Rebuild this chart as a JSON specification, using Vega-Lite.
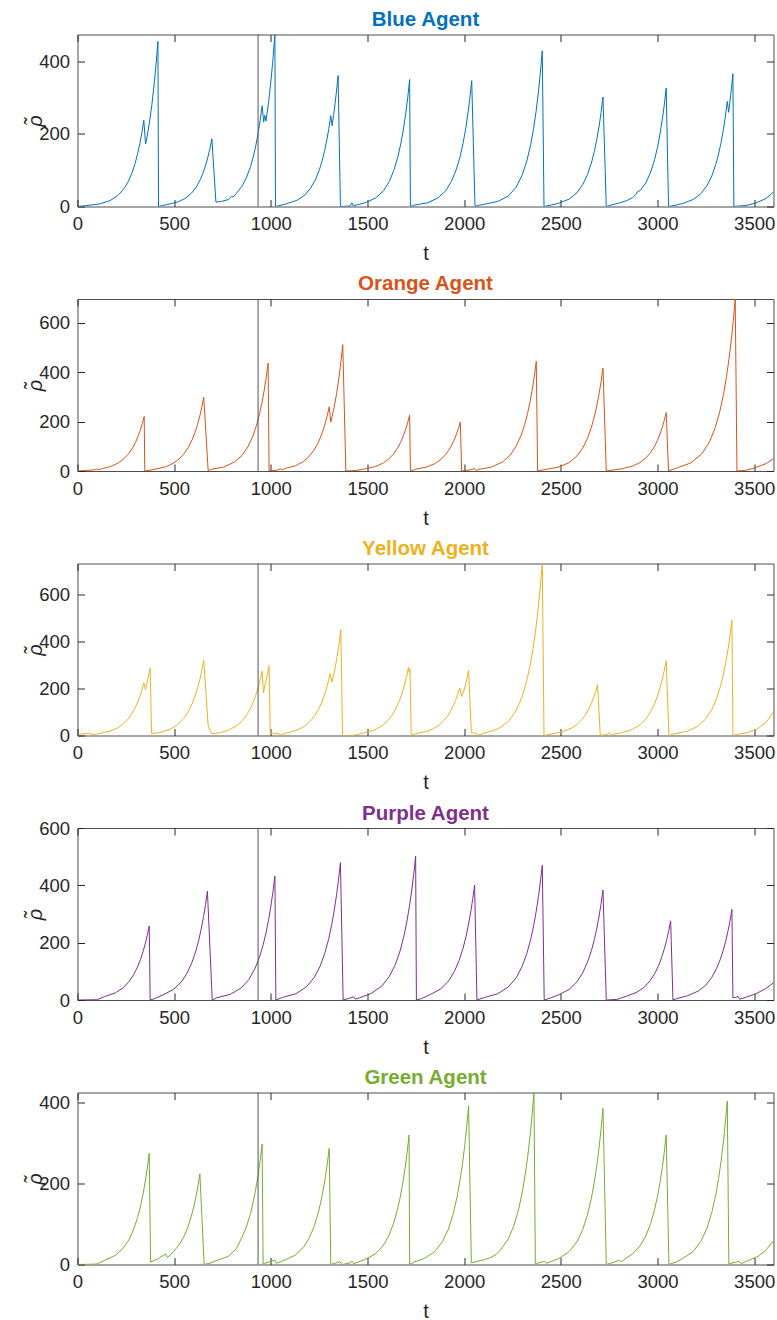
{
"$schema": "https://vega.github.io/schema/vega-lite/v6.json",
"padding": {"left": 24.5, "top": 8.5, "right": 0, "bottom": 0},
"spacing": 92.5,
"bounds": "flush",
"config": {
 "font": "Liberation Sans",
 "view": {"stroke": "#4d4d4d", "strokeWidth": 1},
 "axis": {"grid": false, "domain": false, "tickColor": "#262626", "tickSize": -7, "labelFontSize": 18.5, "labelColor": "#262626", "titleColor": "#262626", "titleFontWeight": "normal", "titleFontSize": 20, "labelFlush": false, "labelPadding": 15, "format": "d"},
 "axisX": {"titlePadding": 10.5},
 "axisY": {"titlePadding": -7},
 "title": {"fontSize": 20.5, "fontWeight": "bold", "anchor": "middle", "offset": 4}
},
"datasets": {
"blue": [
{"t":0,"v":0},{"t":43,"v":2.3},{"t":113,"v":7},{"t":168,"v":16},{"t":208,"v":30},{"t":238,"v":47},{"t":263,"v":69},{"t":283,"v":94},{"t":298,"v":118.5},{"t":311,"v":145},{"t":323,"v":174},{"t":333,"v":203},{"t":343,"v":237},{"t":352,"v":172},{"t":356,"v":180},{"t":371,"v":227},{"t":384,"v":277},{"t":396,"v":334},{"t":406,"v":389},{"t":416,"v":454},{"t":419,"v":0},
{"t":440,"v":3},{"t":465,"v":5.4},{"t":520,"v":12.6},{"t":560,"v":23},{"t":590,"v":37},{"t":615,"v":54},{"t":635,"v":74},{"t":650,"v":93},{"t":663,"v":114},{"t":675,"v":137},{"t":685,"v":159},{"t":695,"v":186},{"t":716,"v":12},
{"t":745,"v":14},{"t":780,"v":19},{"t":797,"v":28},{"t":805,"v":26},{"t":820,"v":35},{"t":850,"v":55},{"t":875,"v":81},{"t":895,"v":110},{"t":910,"v":138.5},{"t":923,"v":169},{"t":935,"v":204},{"t":945,"v":237},{"t":955,"v":277},{"t":963,"v":232},{"t":968,"v":251},{"t":975,"v":235},{"t":989,"v":289},{"t":1001,"v":348},{"t":1011,"v":405},{"t":1021,"v":473},{"t":1024,"v":0},
{"t":1040,"v":2},{"t":1080,"v":7.3},{"t":1135,"v":17},{"t":1175,"v":31},{"t":1205,"v":50},{"t":1230,"v":73},{"t":1250,"v":99},{"t":1265,"v":125},{"t":1278,"v":153},{"t":1290,"v":184},{"t":1300,"v":214},{"t":1310,"v":250},{"t":1317,"v":222},{"t":1328,"v":265},{"t":1338,"v":309},{"t":1348,"v":360},{"t":1360,"v":0},
{"t":1395,"v":1},{"t":1409,"v":1},{"t":1420,"v":10},{"t":1426,"v":2},{"t":1450,"v":5},{"t":1488,"v":10.2},{"t":1543,"v":23.6},{"t":1583,"v":43.6},{"t":1613,"v":69},{"t":1638,"v":102},{"t":1658,"v":138.5},{"t":1673,"v":174.5},{"t":1686,"v":213},{"t":1698,"v":256.5},{"t":1708,"v":299},{"t":1718,"v":349},{"t":1722,"v":0},
{"t":1739,"v":3.4},{"t":1809,"v":10},{"t":1864,"v":23.4},{"t":1904,"v":43},{"t":1934,"v":69},{"t":1959,"v":101},{"t":1979,"v":137},{"t":1994,"v":173},{"t":2007,"v":211},{"t":2019,"v":254},{"t":2029,"v":296.5},{"t":2039,"v":346},{"t":2056,"v":0},
{"t":2080,"v":4},{"t":2104,"v":6},{"t":2174,"v":14},{"t":2229,"v":29},{"t":2269,"v":53.5},{"t":2299,"v":85},{"t":2324,"v":125},{"t":2344,"v":170},{"t":2359,"v":214},{"t":2372,"v":261.5},{"t":2384,"v":314.6},{"t":2394,"v":367},{"t":2404,"v":428},{"t":2413,"v":0},
{"t":2450,"v":4},{"t":2488,"v":8.8},{"t":2543,"v":20.4},{"t":2583,"v":37.6},{"t":2613,"v":60},{"t":2638,"v":88},{"t":2658,"v":119.5},{"t":2673,"v":150.5},{"t":2686,"v":184},{"t":2698,"v":221},{"t":2708,"v":258},{"t":2718,"v":301},{"t":2735,"v":0},
{"t":2760,"v":4},{"t":2804,"v":10},{"t":2840,"v":16},{"t":2870,"v":24},{"t":2888,"v":33},{"t":2895,"v":40},{"t":2910,"v":44},{"t":2940,"v":65},{"t":2965,"v":95},{"t":2985,"v":129},{"t":3000,"v":163},{"t":3013,"v":199},{"t":3025,"v":240},{"t":3035,"v":279},{"t":3045,"v":326},{"t":3057,"v":0},
{"t":3090,"v":3},{"t":3131,"v":8.4},{"t":3186,"v":19.6},{"t":3226,"v":36},{"t":3256,"v":57.5},{"t":3281,"v":84},{"t":3301,"v":115},{"t":3316,"v":144.5},{"t":3329,"v":176.5},{"t":3341,"v":212},{"t":3351,"v":248},{"t":3361,"v":289},{"t":3368,"v":259},{"t":3380,"v":313},{"t":3390,"v":365},{"t":3395,"v":0},
{"t":3459,"v":3},{"t":3511,"v":10},{"t":3562,"v":22.3},{"t":3600,"v":40}
],
"orange": [
{"t":0,"v":0},{"t":45,"v":2},{"t":88,"v":5},{"t":100,"v":9},{"t":106,"v":5},{"t":130,"v":10},{"t":170,"v":18},{"t":210,"v":32},{"t":240,"v":49.3},{"t":265,"v":70.5},{"t":285,"v":93.7},{"t":300,"v":116},{"t":313,"v":140},{"t":325,"v":166},{"t":335,"v":191.6},{"t":345,"v":221},{"t":348,"v":0},
{"t":380,"v":4},{"t":423,"v":11},{"t":455,"v":17},{"t":462,"v":19},{"t":478,"v":24.5},{"t":518,"v":43},{"t":548,"v":67},{"t":573,"v":95},{"t":593,"v":127},{"t":608,"v":157},{"t":621,"v":189},{"t":633,"v":224.5},{"t":643,"v":259},{"t":653,"v":299},{"t":676,"v":0},
{"t":686,"v":6},{"t":756,"v":16},{"t":811,"v":36},{"t":851,"v":63},{"t":881,"v":97.5},{"t":906,"v":139},{"t":926,"v":185},{"t":941,"v":230},{"t":954,"v":276.6},{"t":966,"v":328},{"t":976,"v":379},{"t":986,"v":437},{"t":991,"v":0},
{"t":1030,"v":3},{"t":1050,"v":9},{"t":1058,"v":5},{"t":1072,"v":9.7},{"t":1127,"v":21},{"t":1167,"v":37.7},{"t":1197,"v":58},{"t":1222,"v":83},{"t":1242,"v":110},{"t":1257,"v":137},{"t":1270,"v":164.6},{"t":1282,"v":195},{"t":1292,"v":225},{"t":1302,"v":260},{"t":1310,"v":198},{"t":1327,"v":256},{"t":1340,"v":313},{"t":1352,"v":376},{"t":1362,"v":439},{"t":1372,"v":512},{"t":1388,"v":0},
{"t":1418,"v":1},{"t":1440,"v":2},{"t":1488,"v":8.5},{"t":1543,"v":18.6},{"t":1583,"v":33},{"t":1613,"v":50.6},{"t":1638,"v":72.4},{"t":1658,"v":96},{"t":1673,"v":119.4},{"t":1686,"v":143.7},{"t":1698,"v":170.5},{"t":1708,"v":197},{"t":1718,"v":227},{"t":1722,"v":0},
{"t":1750,"v":7.4},{"t":1805,"v":16},{"t":1845,"v":28.7},{"t":1875,"v":44},{"t":1900,"v":63},{"t":1920,"v":84},{"t":1935,"v":104},{"t":1948,"v":125},{"t":1960,"v":148.7},{"t":1970,"v":171.7},{"t":1980,"v":198},{"t":1987,"v":0},
{"t":2030,"v":4},{"t":2054,"v":10},{"t":2063,"v":2},{"t":2073,"v":6},{"t":2143,"v":16.6},{"t":2198,"v":36.4},{"t":2238,"v":64.4},{"t":2268,"v":99},{"t":2293,"v":141.6},{"t":2313,"v":188},{"t":2328,"v":233.5},{"t":2341,"v":281},{"t":2353,"v":333.4},{"t":2363,"v":385},{"t":2373,"v":444},{"t":2380,"v":0},
{"t":2418,"v":5.8},{"t":2488,"v":15.6},{"t":2543,"v":34},{"t":2583,"v":60.5},{"t":2613,"v":93},{"t":2638,"v":133},{"t":2658,"v":177},{"t":2673,"v":219},{"t":2686,"v":264},{"t":2698,"v":313},{"t":2708,"v":361.5},{"t":2718,"v":417},{"t":2735,"v":0},
{"t":2745,"v":1},{"t":2815,"v":8.9},{"t":2870,"v":19.4},{"t":2910,"v":34.4},{"t":2940,"v":53},{"t":2965,"v":75.6},{"t":2985,"v":100.5},{"t":3000,"v":124.7},{"t":3013,"v":150},{"t":3025,"v":178},{"t":3035,"v":205.5},{"t":3045,"v":237},{"t":3057,"v":0},
{"t":3102,"v":12.8},{"t":3172,"v":32.5},{"t":3227,"v":67.6},{"t":3267,"v":115},{"t":3297,"v":172},{"t":3322,"v":240},{"t":3342,"v":313},{"t":3357,"v":383},{"t":3370,"v":455},{"t":3382,"v":534},{"t":3392,"v":610},{"t":3402,"v":697},{"t":3411,"v":0},
{"t":3460,"v":3},{"t":3511,"v":15},{"t":3562,"v":30},{"t":3600,"v":50}
],
"yellow": [
{"t":0,"v":0},{"t":20,"v":7},{"t":50,"v":8},{"t":65,"v":9},{"t":80,"v":4},{"t":113,"v":8.4},{"t":168,"v":18.4},{"t":208,"v":32.5},{"t":238,"v":50},{"t":263,"v":71.5},{"t":283,"v":95},{"t":298,"v":118},{"t":311,"v":142},{"t":323,"v":168},{"t":333,"v":194},{"t":343,"v":224},{"t":352,"v":196},{"t":366,"v":247},{"t":376,"v":288},{"t":383,"v":8},
{"t":426,"v":12},{"t":478,"v":26},{"t":518,"v":46.4},{"t":548,"v":71},{"t":573,"v":102},{"t":593,"v":136},{"t":608,"v":168},{"t":621,"v":202.6},{"t":633,"v":240},{"t":643,"v":277},{"t":653,"v":320},{"t":676,"v":40},{"t":693,"v":8},
{"t":740,"v":12},{"t":780,"v":22.5},{"t":820,"v":39.7},{"t":850,"v":61},{"t":875,"v":87},{"t":895,"v":116},{"t":910,"v":144},{"t":923,"v":173.4},{"t":935,"v":206},{"t":945,"v":237.6},{"t":955,"v":274},{"t":962,"v":182},{"t":970,"v":216},{"t":981,"v":255},{"t":991,"v":298},{"t":997,"v":8},{"t":1010,"v":10},{"t":1025,"v":7},{"t":1038,"v":10},{"t":1047,"v":1},
{"t":1077,"v":9.9},{"t":1132,"v":21.6},{"t":1172,"v":38},{"t":1202,"v":59},{"t":1227,"v":84},{"t":1247,"v":112},{"t":1262,"v":139},{"t":1275,"v":167},{"t":1287,"v":198},{"t":1297,"v":229},{"t":1307,"v":264},{"t":1316,"v":227},{"t":1330,"v":275.5},{"t":1342,"v":331.5},{"t":1352,"v":386.5},{"t":1362,"v":451},{"t":1371,"v":0},
{"t":1430,"v":1},{"t":1482,"v":10.8},{"t":1537,"v":23.8},{"t":1577,"v":42},{"t":1607,"v":64.7},{"t":1632,"v":92.5},{"t":1652,"v":123},{"t":1667,"v":152.5},{"t":1680,"v":183.6},{"t":1692,"v":218},{"t":1702,"v":251},{"t":1712,"v":290},{"t":1716,"v":268},{"t":1720,"v":283},{"t":1726,"v":0},
{"t":1747,"v":7.6},{"t":1802,"v":16.6},{"t":1842,"v":29.4},{"t":1872,"v":45},{"t":1897,"v":64.8},{"t":1917,"v":86},{"t":1932,"v":106.8},{"t":1945,"v":128.5},{"t":1957,"v":152.5},{"t":1967,"v":176},{"t":1977,"v":203},{"t":1987,"v":167},{"t":2000,"v":194},{"t":2013,"v":237},{"t":2023,"v":277},{"t":2037,"v":11},{"t":2063,"v":10},{"t":2071,"v":1},
{"t":2104,"v":10},{"t":2174,"v":27.4},{"t":2229,"v":60},{"t":2269,"v":106},{"t":2299,"v":163.5},{"t":2324,"v":234},{"t":2344,"v":311},{"t":2359,"v":385.5},{"t":2372,"v":464},{"t":2384,"v":550.5},{"t":2394,"v":635.5},{"t":2404,"v":733},{"t":2413,"v":0},
{"t":2460,"v":8},{"t":2515,"v":17.8},{"t":2555,"v":31.5},{"t":2585,"v":48.4},{"t":2610,"v":69},{"t":2630,"v":92},{"t":2645,"v":114},{"t":2658,"v":137},{"t":2670,"v":163},{"t":2680,"v":188},{"t":2690,"v":217},{"t":2704,"v":0},{"t":2740,"v":5},{"t":2752,"v":11},{"t":2762,"v":4},
{"t":2815,"v":12},{"t":2870,"v":26},{"t":2910,"v":46},{"t":2940,"v":71},{"t":2965,"v":102},{"t":2985,"v":135},{"t":3000,"v":168},{"t":3013,"v":202},{"t":3025,"v":239.6},{"t":3035,"v":276.6},{"t":3045,"v":319},{"t":3059,"v":0},
{"t":3085,"v":6.8},{"t":3155,"v":18.4},{"t":3210,"v":40},{"t":3250,"v":71},{"t":3280,"v":109.5},{"t":3305,"v":156.6},{"t":3325,"v":208},{"t":3340,"v":258},{"t":3353,"v":311},{"t":3365,"v":368.7},{"t":3375,"v":425.7},{"t":3385,"v":491},{"t":3390,"v":0},
{"t":3420,"v":6},{"t":3460,"v":11.5},{"t":3511,"v":25.5},{"t":3562,"v":56},{"t":3600,"v":101}
],
"purple": [
{"t":0,"v":0},{"t":100,"v":1},{"t":141,"v":12},{"t":196,"v":25},{"t":236,"v":42.6},{"t":266,"v":64},{"t":291,"v":89},{"t":311,"v":116},{"t":326,"v":141.6},{"t":339,"v":168.5},{"t":351,"v":198},{"t":361,"v":226},{"t":371,"v":258},{"t":376,"v":0},
{"t":400,"v":5},{"t":442,"v":17.7},{"t":497,"v":37},{"t":537,"v":62.7},{"t":567,"v":94},{"t":592,"v":131},{"t":612,"v":170.6},{"t":627,"v":208.6},{"t":640,"v":248},{"t":652,"v":291},{"t":662,"v":332.5},{"t":672,"v":380},{"t":697,"v":0},
{"t":721,"v":8},{"t":791,"v":20},{"t":846,"v":42},{"t":886,"v":71},{"t":916,"v":107},{"t":941,"v":148.6},{"t":961,"v":194},{"t":976,"v":237},{"t":989,"v":282},{"t":1001,"v":331},{"t":1011,"v":378},{"t":1021,"v":432},{"t":1026,"v":0},
{"t":1060,"v":8.8},{"t":1130,"v":22},{"t":1185,"v":46.5},{"t":1225,"v":79},{"t":1255,"v":118},{"t":1280,"v":165},{"t":1300,"v":215},{"t":1315,"v":263},{"t":1328,"v":313},{"t":1340,"v":367},{"t":1350,"v":419},{"t":1360,"v":479},{"t":1374,"v":0},
{"t":1400,"v":5},{"t":1428,"v":11},{"t":1436,"v":3},{"t":1460,"v":8},{"t":1519,"v":23},{"t":1574,"v":48.6},{"t":1614,"v":83},{"t":1644,"v":124},{"t":1669,"v":172},{"t":1689,"v":225},{"t":1704,"v":275},{"t":1717,"v":327},{"t":1729,"v":384},{"t":1739,"v":438},{"t":1749,"v":501},{"t":1753,"v":0},
{"t":1780,"v":5},{"t":1824,"v":18.7},{"t":1879,"v":39},{"t":1919,"v":66},{"t":1949,"v":99},{"t":1974,"v":138},{"t":1994,"v":180},{"t":2009,"v":220},{"t":2022,"v":262},{"t":2034,"v":307},{"t":2044,"v":351},{"t":2054,"v":401},{"t":2066,"v":0},
{"t":2104,"v":8.6},{"t":2174,"v":22},{"t":2229,"v":45.6},{"t":2269,"v":77.6},{"t":2299,"v":116},{"t":2324,"v":162},{"t":2344,"v":211},{"t":2359,"v":258},{"t":2372,"v":307},{"t":2384,"v":360},{"t":2394,"v":411},{"t":2404,"v":470},{"t":2414,"v":0},
{"t":2450,"v":8},{"t":2488,"v":17.8},{"t":2543,"v":37},{"t":2583,"v":63},{"t":2613,"v":94.6},{"t":2638,"v":132},{"t":2658,"v":172},{"t":2673,"v":210},{"t":2686,"v":250},{"t":2698,"v":293},{"t":2708,"v":335},{"t":2718,"v":383},{"t":2735,"v":0},
{"t":2790,"v":2},{"t":2838,"v":13},{"t":2893,"v":27},{"t":2933,"v":45.5},{"t":2963,"v":68},{"t":2988,"v":95},{"t":3008,"v":124},{"t":3023,"v":151.5},{"t":3036,"v":180},{"t":3048,"v":211},{"t":3058,"v":241.5},{"t":3068,"v":276},{"t":3080,"v":0},
{"t":3100,"v":5},{"t":3155,"v":14.7},{"t":3210,"v":30.7},{"t":3250,"v":52},{"t":3280,"v":78},{"t":3305,"v":109},{"t":3325,"v":142},{"t":3340,"v":173.5},{"t":3353,"v":206},{"t":3365,"v":242},{"t":3375,"v":276.5},{"t":3385,"v":316},{"t":3390,"v":8},{"t":3405,"v":9},{"t":3416,"v":13},{"t":3425,"v":3},{"t":3460,"v":10},{"t":3510,"v":22},{"t":3560,"v":40},{"t":3600,"v":60}
],
"green": [
{"t":0,"v":0},{"t":98,"v":1},{"t":141,"v":10.3},{"t":196,"v":22.5},{"t":236,"v":40},{"t":266,"v":61},{"t":291,"v":87.7},{"t":311,"v":116.6},{"t":326,"v":144.6},{"t":339,"v":174},{"t":351,"v":206.5},{"t":361,"v":238},{"t":371,"v":275},{"t":378,"v":6},
{"t":420,"v":15},{"t":455,"v":26},{"t":466,"v":17},{"t":498,"v":32.5},{"t":528,"v":50},{"t":553,"v":71.5},{"t":573,"v":95},{"t":588,"v":118},{"t":601,"v":142},{"t":613,"v":168},{"t":623,"v":194},{"t":633,"v":224},{"t":655,"v":0},
{"t":690,"v":4},{"t":725,"v":11},{"t":780,"v":20},{"t":820,"v":38},{"t":850,"v":66.5},{"t":875,"v":95},{"t":895,"v":126},{"t":910,"v":157},{"t":923,"v":189},{"t":935,"v":224},{"t":945,"v":258},{"t":955,"v":298},{"t":960,"v":2},
{"t":990,"v":6},{"t":1021,"v":11},{"t":1029,"v":3},{"t":1072,"v":10.7},{"t":1127,"v":23.5},{"t":1167,"v":41.6},{"t":1197,"v":64},{"t":1222,"v":91.5},{"t":1242,"v":122},{"t":1257,"v":151},{"t":1270,"v":182},{"t":1282,"v":215.5},{"t":1292,"v":249},{"t":1302,"v":287},{"t":1310,"v":0},
{"t":1357,"v":7},{"t":1371,"v":0},{"t":1410,"v":4},{"t":1421,"v":8},{"t":1429,"v":2},{"t":1485,"v":12},{"t":1540,"v":26},{"t":1580,"v":46},{"t":1610,"v":71},{"t":1635,"v":102},{"t":1655,"v":136},{"t":1670,"v":168},{"t":1683,"v":202.6},{"t":1695,"v":240},{"t":1705,"v":277},{"t":1715,"v":320},{"t":1718,"v":0},
{"t":1740,"v":6},{"t":1793,"v":14.7},{"t":1848,"v":32},{"t":1888,"v":57},{"t":1918,"v":87},{"t":1943,"v":125},{"t":1963,"v":166},{"t":1978,"v":206},{"t":1991,"v":248},{"t":2003,"v":294},{"t":2013,"v":340},{"t":2023,"v":392},{"t":2037,"v":4},
{"t":2097,"v":11},{"t":2131,"v":16},{"t":2166,"v":25},{"t":2186,"v":35},{"t":2226,"v":61.5},{"t":2256,"v":94.6},{"t":2281,"v":135},{"t":2301,"v":180},{"t":2316,"v":223},{"t":2329,"v":268},{"t":2341,"v":318},{"t":2351,"v":367.6},{"t":2361,"v":424},{"t":2368,"v":2},
{"t":2416,"v":8},{"t":2425,"v":3},{"t":2488,"v":14.4},{"t":2543,"v":31.7},{"t":2583,"v":56},{"t":2613,"v":86},{"t":2638,"v":123},{"t":2658,"v":164},{"t":2673,"v":203},{"t":2686,"v":244},{"t":2698,"v":290},{"t":2708,"v":335},{"t":2718,"v":386},{"t":2735,"v":0},
{"t":2770,"v":5},{"t":2799,"v":10},{"t":2813,"v":7},{"t":2870,"v":26},{"t":2910,"v":46},{"t":2940,"v":71},{"t":2965,"v":102},{"t":2985,"v":136},{"t":3000,"v":168},{"t":3013,"v":202.6},{"t":3025,"v":240},{"t":3035,"v":277},{"t":3045,"v":320},{"t":3059,"v":0},
{"t":3100,"v":7},{"t":3131,"v":15},{"t":3186,"v":33},{"t":3226,"v":58.6},{"t":3256,"v":90},{"t":3281,"v":129},{"t":3301,"v":171},{"t":3316,"v":212.5},{"t":3329,"v":256},{"t":3341,"v":303},{"t":3351,"v":350},{"t":3361,"v":404},{"t":3369,"v":2},
{"t":3400,"v":5},{"t":3424,"v":8},{"t":3433,"v":2},{"t":3470,"v":10},{"t":3520,"v":20},{"t":3560,"v":35},{"t":3600,"v":59}
],
"marker": [{"t":934}]
},
"vconcat": [
{"title": {"text": "Blue Agent", "color": "#0072BD"}, "width": 696, "height": 172, "data": {"name": "blue"},
 "layer": [
  {"mark": {"type": "line", "color": "#0072BD", "strokeWidth": 1, "clip": true},
   "encoding": {"x": {"field": "t", "type": "quantitative", "scale": {"domain": [0, 3600], "nice": false}, "axis": {"orient": "bottom", "values": [0,500,1000,1500,2000,2500,3000,3500], "title": "t"}},
                "y": {"field": "v", "type": "quantitative", "scale": {"domain": [0, 473], "nice": false}, "axis": {"orient": "left", "values": [0,200,400], "title": "ρ̃", "titleFontStyle": "italic"}}}},
  {"mark": {"type": "line", "opacity": 0, "clip": true},
   "encoding": {"x": {"field": "t", "type": "quantitative", "scale": {"domain": [0, 3600], "nice": false}, "axis": {"orient": "top", "values": [0,500,1000,1500,2000,2500,3000,3500], "labels": false, "title": null}},
                "y": {"field": "v", "type": "quantitative", "scale": {"domain": [0, 473], "nice": false}, "axis": {"orient": "right", "values": [0,200,400], "labels": false, "title": null}}}},
  {"data": {"name": "marker"}, "mark": {"type": "rule", "color": "#555555", "strokeWidth": 1},
   "encoding": {"x": {"field": "t", "type": "quantitative", "scale": {"domain": [0, 3600], "nice": false}, "axis": null}}}
 ],
 "resolve": {"axis": {"x": "independent", "y": "independent"}}},
{"title": {"text": "Orange Agent", "color": "#D95319"}, "width": 696, "height": 172, "data": {"name": "orange"},
 "layer": [
  {"mark": {"type": "line", "color": "#D95319", "strokeWidth": 1, "clip": true},
   "encoding": {"x": {"field": "t", "type": "quantitative", "scale": {"domain": [0, 3600], "nice": false}, "axis": {"orient": "bottom", "values": [0,500,1000,1500,2000,2500,3000,3500], "title": "t"}},
                "y": {"field": "v", "type": "quantitative", "scale": {"domain": [0, 697], "nice": false}, "axis": {"orient": "left", "values": [0,200,400,600], "title": "ρ̃", "titleFontStyle": "italic"}}}},
  {"mark": {"type": "line", "opacity": 0, "clip": true},
   "encoding": {"x": {"field": "t", "type": "quantitative", "scale": {"domain": [0, 3600], "nice": false}, "axis": {"orient": "top", "values": [0,500,1000,1500,2000,2500,3000,3500], "labels": false, "title": null}},
                "y": {"field": "v", "type": "quantitative", "scale": {"domain": [0, 697], "nice": false}, "axis": {"orient": "right", "values": [0,200,400,600], "labels": false, "title": null}}}},
  {"data": {"name": "marker"}, "mark": {"type": "rule", "color": "#555555", "strokeWidth": 1},
   "encoding": {"x": {"field": "t", "type": "quantitative", "scale": {"domain": [0, 3600], "nice": false}, "axis": null}}}
 ],
 "resolve": {"axis": {"x": "independent", "y": "independent"}}},
{"title": {"text": "Yellow Agent", "color": "#EDB120"}, "width": 696, "height": 172, "data": {"name": "yellow"},
 "layer": [
  {"mark": {"type": "line", "color": "#EDB120", "strokeWidth": 1, "clip": true},
   "encoding": {"x": {"field": "t", "type": "quantitative", "scale": {"domain": [0, 3600], "nice": false}, "axis": {"orient": "bottom", "values": [0,500,1000,1500,2000,2500,3000,3500], "title": "t"}},
                "y": {"field": "v", "type": "quantitative", "scale": {"domain": [0, 733], "nice": false}, "axis": {"orient": "left", "values": [0,200,400,600], "title": "ρ̃", "titleFontStyle": "italic"}}}},
  {"mark": {"type": "line", "opacity": 0, "clip": true},
   "encoding": {"x": {"field": "t", "type": "quantitative", "scale": {"domain": [0, 3600], "nice": false}, "axis": {"orient": "top", "values": [0,500,1000,1500,2000,2500,3000,3500], "labels": false, "title": null}},
                "y": {"field": "v", "type": "quantitative", "scale": {"domain": [0, 733], "nice": false}, "axis": {"orient": "right", "values": [0,200,400,600], "labels": false, "title": null}}}},
  {"data": {"name": "marker"}, "mark": {"type": "rule", "color": "#555555", "strokeWidth": 1},
   "encoding": {"x": {"field": "t", "type": "quantitative", "scale": {"domain": [0, 3600], "nice": false}, "axis": null}}}
 ],
 "resolve": {"axis": {"x": "independent", "y": "independent"}}},
{"title": {"text": "Purple Agent", "color": "#7E2F8E", "offset": -5}, "width": 696, "height": 172, "data": {"name": "purple"},
 "layer": [
  {"mark": {"type": "line", "color": "#7E2F8E", "strokeWidth": 1, "clip": true},
   "encoding": {"x": {"field": "t", "type": "quantitative", "scale": {"domain": [0, 3600], "nice": false}, "axis": {"orient": "bottom", "values": [0,500,1000,1500,2000,2500,3000,3500], "title": "t"}},
                "y": {"field": "v", "type": "quantitative", "scale": {"domain": [0, 600], "nice": false}, "axis": {"orient": "left", "values": [0,200,400,600], "title": "ρ̃", "titleFontStyle": "italic"}}}},
  {"mark": {"type": "line", "opacity": 0, "clip": true},
   "encoding": {"x": {"field": "t", "type": "quantitative", "scale": {"domain": [0, 3600], "nice": false}, "axis": {"orient": "top", "values": [0,500,1000,1500,2000,2500,3000,3500], "labels": false, "title": null}},
                "y": {"field": "v", "type": "quantitative", "scale": {"domain": [0, 600], "nice": false}, "axis": {"orient": "right", "values": [0,200,400,600], "labels": false, "title": null}}}},
  {"data": {"name": "marker"}, "mark": {"type": "rule", "color": "#555555", "strokeWidth": 1},
   "encoding": {"x": {"field": "t", "type": "quantitative", "scale": {"domain": [0, 3600], "nice": false}, "axis": null}}}
 ],
 "resolve": {"axis": {"x": "independent", "y": "independent"}}},
{"title": {"text": "Green Agent", "color": "#77AC30"}, "width": 696, "height": 172, "data": {"name": "green"},
 "layer": [
  {"mark": {"type": "line", "color": "#77AC30", "strokeWidth": 1, "clip": true},
   "encoding": {"x": {"field": "t", "type": "quantitative", "scale": {"domain": [0, 3600], "nice": false}, "axis": {"orient": "bottom", "values": [0,500,1000,1500,2000,2500,3000,3500], "title": "t"}},
                "y": {"field": "v", "type": "quantitative", "scale": {"domain": [0, 425], "nice": false}, "axis": {"orient": "left", "values": [0,200,400], "title": "ρ̃", "titleFontStyle": "italic"}}}},
  {"mark": {"type": "line", "opacity": 0, "clip": true},
   "encoding": {"x": {"field": "t", "type": "quantitative", "scale": {"domain": [0, 3600], "nice": false}, "axis": {"orient": "top", "values": [0,500,1000,1500,2000,2500,3000,3500], "labels": false, "title": null}},
                "y": {"field": "v", "type": "quantitative", "scale": {"domain": [0, 425], "nice": false}, "axis": {"orient": "right", "values": [0,200,400], "labels": false, "title": null}}}},
  {"data": {"name": "marker"}, "mark": {"type": "rule", "color": "#555555", "strokeWidth": 1},
   "encoding": {"x": {"field": "t", "type": "quantitative", "scale": {"domain": [0, 3600], "nice": false}, "axis": null}}}
 ],
 "resolve": {"axis": {"x": "independent", "y": "independent"}}}
]
}
